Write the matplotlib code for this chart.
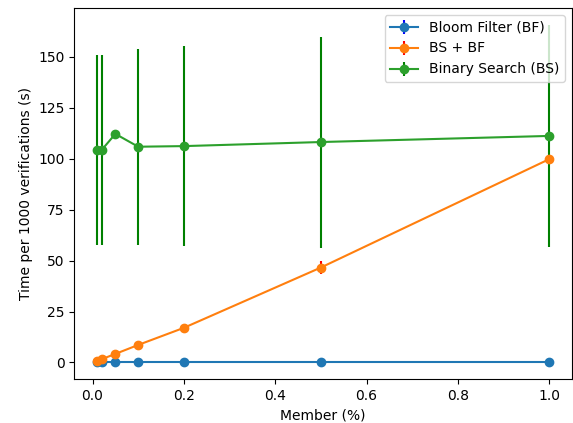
import numpy as np
import matplotlib
matplotlib.use("Agg")
import matplotlib.pyplot as plt

member = [0.01, 0.02, 0.05, 0.1, 0.2, 0.5, 1.0]

bf_time = [0.2, 0.2, 0.2, 0.2, 0.2, 0.2, 0.2]
bf_err = [0.05, 0.05, 0.05, 0.05, 0.05, 0.05, 0.05]

bsbf_time = [0.6, 1.6, 4.2, 8.6, 17.0, 46.6, 99.8]
bsbf_err = [0.2, 0.3, 0.4, 0.6, 0.8, 3.0, 1.0]

bs_time = [104.3, 104.3, 112.2, 105.9, 106.2, 108.2, 111.2]
bs_err = [46.7, 46.8, 0.5, 48.0, 49.2, 51.8, 54.5]

fig, ax = plt.subplots(figsize=(5.73, 4.23), dpi=100)

ax.errorbar(member, bf_time, yerr=bf_err, fmt='-o', ecolor='blue', label='Bloom Filter (BF)')
ax.errorbar(member, bsbf_time, yerr=bsbf_err, fmt='-o', ecolor='red', label='BS + BF')
ax.errorbar(member, bs_time, yerr=bs_err, fmt='-o', ecolor='green', label='Binary Search (BS)')

ax.set_xlabel('Member (%)')
ax.set_ylabel('Time per 1000 verifications (s)')
ax.legend(loc='upper right')

fig.subplots_adjust(left=0.13, right=0.998, top=0.981, bottom=0.104)
fig.savefig('out.png', dpi=100)
